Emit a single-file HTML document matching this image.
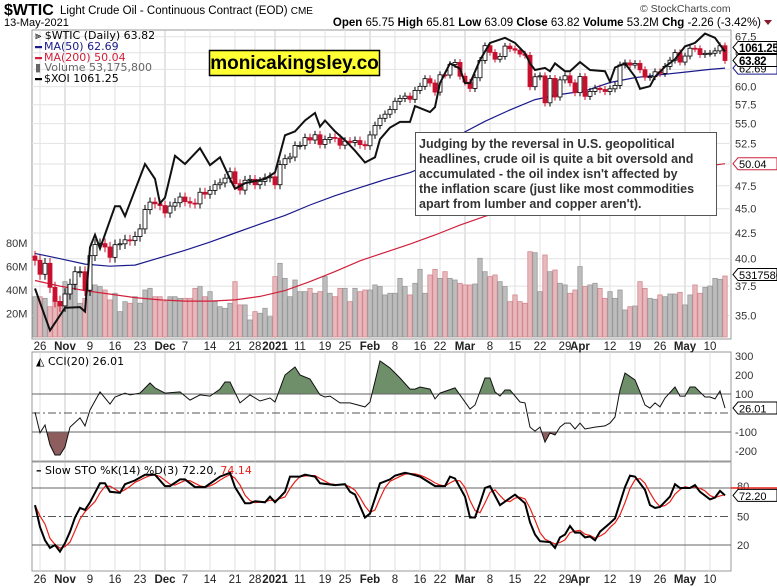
<!DOCTYPE html>
<html><head><meta charset="utf-8"><style>
html,body{margin:0;padding:0;background:#fff;}
svg{display:block;font-family:"Liberation Sans",sans-serif;}
.ax{font-size:11px;fill:#333;}
.dl{font-size:11.5px;fill:#222;text-anchor:middle;}
.db{font-weight:bold;}
</style></head><body>
<svg id="c" width="777" height="587" viewBox="0 0 777 587" xmlns="http://www.w3.org/2000/svg">
<rect x="0" y="0" width="777" height="587" fill="#fff"/>
<text x="4" y="15" font-size="16" font-weight="bold">$WTIC</text>
<text x="60" y="14" font-size="11.5">Light Crude Oil - Continuous Contract (EOD) <tspan font-size="10">CME</tspan></text>
<text x="4" y="26" font-size="11">13-May-2021</text>
<text x="640" y="12" font-size="10.5" fill="#444">© StockCharts.com</text>
<text x="761" y="26" font-size="11.5" text-anchor="end"><tspan font-weight="bold">Open</tspan> 65.75  <tspan font-weight="bold">High</tspan> 65.81  <tspan font-weight="bold">Low</tspan> 63.09  <tspan font-weight="bold">Close</tspan> 63.82  <tspan font-weight="bold">Volume</tspan> 53.2M  <tspan font-weight="bold">Chg</tspan> -2.26 (-3.42%)</text>
<path d="M764 20 l8 0 l-4 5z" fill="#8b1a2a"/>
<g id="g"></g>
</svg>
<script>
const closes=[39.85,38.56,39.57,37.39,36.17,35.79,
36.81,37.66,38.79,38.79,37.14,40.29,41.36,41.45,41.12,40.13,41.34,41.43,41.82,41.74,42.15,42.91,44.91,45.71,45.53,45.34,
44.55,45.28,45.64,46.26,45.76,45.60,45.52,46.78,46.57,46.99,47.62,47.82,48.36,49.10,47.74,47.02,48.12,48.23,47.62,48.00,48.40,48.52,
47.62,49.93,50.63,50.83,52.24,52.25,53.21,52.91,53.57,52.36,52.98,53.24,53.13,52.27,52.77,52.61,52.85,52.34,52.20,
53.55,54.76,55.69,56.23,56.85,57.97,58.36,58.68,58.24,59.47,60.05,61.14,60.52,59.24,61.70,61.67,63.22,63.53,61.50,
60.64,59.75,61.28,63.83,66.09,65.05,64.01,64.44,66.02,65.61,65.39,64.80,64.60,60.00,61.42,61.55,57.76,61.18,58.56,60.97,61.56,60.55,59.16,
61.45,58.65,59.33,59.77,59.60,59.32,59.70,60.18,63.15,63.46,63.13,63.38,62.44,61.35,61.43,62.14,61.91,62.94,63.86,65.01,63.58,
64.49,65.69,65.63,64.71,64.90,64.92,65.28,66.08,63.82];
const volume=[34.3,34.3,32.9,25.8,34.3,30.1,47.1,44.3,48.5,28.7,32.9,44.3,44.3,42.9,40.0,31.5,37.2,21.6,30.1,28.7,34.3,28.7,40.0,41.4,34.3,34.3,30.1,34.3,34.3,32.9,32.9,32.9,41.4,42.9,34.3,38.6,30.1,25.8,24.4,28.7,47.1,27.3,27.3,14.5,21.6,20.2,24.4,17.3,51.4,62.7,49.9,34.3,48.5,38.6,38.6,41.4,37.2,38.6,51.4,37.2,34.3,41.4,41.4,30.1,41.4,38.6,40.0,
40.0,44.3,42.9,35.8,37.2,37.2,49.9,42.9,35.8,45.7,57.6,37.2,52.8,57.6,49.9,55.6,49.9,48.5,45.7,44.3,44.3,45.1,67.0,55.6,51.4,52.8,47.1,42.9,30.1,35.8,30.1,28.7,72.6,71.8,38.6,69.8,55.6,57.0,45.7,44.3,37.2,40.0,59.9,42.9,44.3,45.7,41.4,32.9,38.6,32.9,40.0,23.0,25.8,26.4,47.1,41.4,32.9,32.1,35.8,34.3,36.6,36.6,38.0,27.3,35.8,44.3,37.2,42.3,43.4,49.9,49.1,51.9];
const ma50Idx=[0,5,10,15,20,25,30,35,40,45,50,55,60,65,70,75,80,85,90,95,100,105,110,115,120,125,130,135,138];
const ma50Val=[40.5,40.0,39.5,39.3,39.4,40.1,40.8,41.6,42.5,43.4,44.3,45.4,46.4,47.3,48.2,49.0,50.2,53.6,55.3,56.8,58.2,58.9,59.4,60.6,61.3,61.7,62.1,62.5,62.69];
const ma200Idx=[0,5,10,15,20,25,30,35,40,45,50,55,60,65,70,75,80,85,90,95,100,105,110,115,120,125,130,135,138];
const ma200Val=[38.0,37.5,37.1,36.8,36.5,36.3,36.2,36.2,36.3,36.6,37.1,37.9,38.8,39.8,40.6,41.4,42.3,43.3,44.2,45.0,45.8,46.5,47.2,47.8,48.5,49.0,49.4,49.8,50.04];
const xoiIdx=[0,3,6,9,10,11,12,13,16,17,18,22,24,25,26,28,30,33,35,37,39,40,42,46,48,50,52,54,56,57,58,60,62,64,66,68,69,71,73,75,76,79,80,81,83,85,86,87,89,91,94,96,98,99,100,102,103,104,106,107,109,111,114,115,116,118,120,121,123,124,126,128,130,132,134,136,137,138];
const xoiVal=[607,550,580,581,575,669,689,667,737,737,720,814,786,742,752,830,814,845,812,827,786,768,778,786,798,871,879,902,918,889,902,879,861,840,817,827,863,887,899,899,933,920,931,985,1032,1019,985,985,1040,1083,1096,1083,1057,1032,1016,1021,1013,1032,1013,1013,1035,1016,1013,988,1022,1032,1000,972,978,1000,1024,1042,1074,1083,1107,1096,1078,1061.25];
const cciIdx=[0,1,2,3,4,5,6,7,9,10,11,13,15,16,18,19,21,23,24,26,29,31,33,35,37,38,39,41,43,45,47,48,50,52,53,55,57,58,59,61,63,66,67,69,71,73,75,76,77,79,80,81,84,85,87,88,90,91,92,93,94,95,97,98,99,100,101,102,103,104,105,106,107,108,109,110,112,114,115,116,117,118,120,121,122,123,124,125,126,128,129,130,131,132,134,135,136,137,138];
const cciVal=[5,-105,-63,-168,-221,-221,-179,-74,-26,-68,16,111,47,84,105,95,105,158,132,105,111,68,95,89,126,163,163,53,95,63,79,58,200,242,200,179,95,84,89,53,53,32,58,274,237,184,126,126,137,126,74,105,132,95,21,42,184,184,111,89,121,121,58,53,-74,-95,-74,-153,-105,-116,-74,-53,-53,-84,-53,-84,-74,-68,-53,-21,121,210,174,111,42,26,53,32,79,137,89,89,137,137,84,84,74,116,26.01];
const stoIdx=[0,1,2,3,4,5,6,7,8,9,10,11,13,14,15,17,18,20,22,24,26,27,29,30,32,34,37,39,40,42,43,44,46,47,48,50,51,53,54,56,57,60,62,63,64,66,67,69,71,72,74,75,77,80,82,83,84,86,87,88,89,90,91,93,96,98,99,100,101,103,104,105,106,107,108,109,110,111,112,113,115,116,118,119,120,122,123,124,125,127,128,129,131,132,133,135,136,137,138];
const stoK=[62,39,25,17,20,13,22,34,49,59,57,65,85,85,76,75,84,88,94,94,82,82,89,89,81,81,92,96,81,64,64,66,65,71,65,76,92,92,94,92,85,83,84,76,73,49,53,85,89,93,96,95,92,82,82,92,90,71,49,49,64,80,82,62,73,64,44,31,24,23,17,28,31,40,33,33,28,29,25,34,43,48,81,93,92,78,62,59,60,71,84,80,80,83,76,68,70,77,72.2];
const priceTicks=[67.5,65.0,62.5,60.0,57.5,55.0,52.5,50.0,47.5,45.0,42.5,40.0,37.5,35.0];
const volTicks=[20,40,60,80];
const cciTicks=[300,200,100,-100,-200];
const stoTicks=[50,20];
const dateLabels=["26","Nov","9","16","23","Dec","7","14","21","28","2021","11","19","25","Feb","8","16","22","Mar","8","15","22","29","Apr","12","19","26","May","10"];
const dateIdx=[1,6,11,16,21,26,30,35,40,44,48,53,58,62,67,72,77,81,86,91,96,101,106,109,115,120,125,130,135];
const dateBold=[0,1,0,0,0,1,0,0,0,0,1,0,0,0,1,0,0,0,1,0,0,0,0,1,0,0,0,1,0];

const NS="http://www.w3.org/2000/svg";
const G=document.getElementById('g');
function el(t,a,p){const e=document.createElementNS(NS,t);for(const k in a)e.setAttribute(k,a[k]);(p||G).appendChild(e);return e;}
const L=32,R=731;
const M={t:30,b:339},C={t:352,b:461},S={t:462,b:571};
const X=i=>35+i*5.0;
const PY=p=>36.7+(Math.log(67.5)-Math.log(p))*424.3;
const VY=v=>337-v*1.175;
const CY=v=>413-v*0.19;
const SY=v=>564-v*0.95;
const XOIF=16.28;

[[M,'main-price-panel'],[C,'cci-panel'],[S,'stochastic-panel']].forEach(([P,n])=>{
  const r=el('rect',{x:L,y:P.t,width:R-L,height:P.b-P.t,fill:'#fff',stroke:'#999','stroke-width':1});
  
  
});
dateIdx.forEach((d,k)=>{
  const x=X(d);
  [M,C,S].forEach(P=>{
    const l=el('line',{x1:x,x2:x,y1:P.t,y2:P.b,stroke:dateBold[k]?'#c8c8c8':'#e0e0e0','stroke-width':1});
    
    
  });
});
priceTicks.forEach(p=>{
  const y=PY(p);
  const l=el('line',{x1:L,x2:R,y1:y,y2:y,stroke:'#e2e2e2'});
  
  
  const t=el('text',{x:735,y:y+4,class:'ax'});t.textContent=p.toFixed(1);
  
  
});
volTicks.forEach(v=>{
  const t=el('text',{x:6,y:VY(v)+4,class:'ax'});t.textContent=v+'M';
  
  
});
volume.forEach((v,i)=>{
  const down=i>0&&closes[i]<closes[i-1];
  const r=el('rect',{x:X(i)-2.2,y:VY(v),width:4.4,height:337-VY(v),fill:down?'#e9b8bc':'#bdbdbd',stroke:down?'#d08a90':'#9a9a9a','stroke-width':0.8});
  
  
});
function poly(idx,vals,f,attrs,name){
  const pts=idx.map((d,k)=>X(d).toFixed(1)+','+f(vals[k]).toFixed(1)).join(' ');
  const e=el('polyline',Object.assign({points:pts,fill:'none'},attrs));
  
  
  return e;
}
poly(ma200Idx,ma200Val,PY,{stroke:'#d0203a','stroke-width':1.2},'ma200-line');
poly(ma50Idx,ma50Val,PY,{stroke:'#1a1a8c','stroke-width':1.2},'ma50-line');
closes.forEach((c,i)=>{
  const o=i>0?closes[i-1]:c+0.4;
  const hi=Math.max(o,c)+0.5,lo=Math.min(o,c)-0.5;
  const down=c<o;
  const x=X(i);
  const w=el('line',{x1:x,x2:x,y1:PY(hi),y2:PY(lo),stroke:down?'#c8102e':'#000','stroke-width':1});
  
  
  const y1=PY(Math.max(o,c)),y2=PY(Math.min(o,c));
  const b=el('rect',{x:x-2,y:y1,width:4,height:Math.max(1,y2-y1),fill:down?'#c8102e':'#fff',stroke:down?'#c8102e':'#000','stroke-width':0.8});
  
  
});
poly(xoiIdx,xoiVal,v=>PY(v/XOIF),{stroke:'#111','stroke-width':2},'xoi-line');

const defs=el('defs',{});
const cp1=el('clipPath',{id:'cAbove'},defs);el('rect',{x:L,y:C.t,width:R-L,height:CY(100)-C.t},cp1);
const cp2=el('clipPath',{id:'cBelow'},defs);el('rect',{x:L,y:CY(-100),width:R-L,height:C.b-CY(-100)},cp2);
const cciPts=cciIdx.map((d,k)=>X(d).toFixed(1)+','+CY(cciVal[k]).toFixed(1));
const x0=X(cciIdx[0]),x1=X(cciIdx[cciIdx.length-1]);
const fa=el('polygon',{points:x0+','+CY(100)+' '+cciPts.join(' ')+' '+x1+','+CY(100),fill:'#6e8f6a','clip-path':'url(#cAbove)'});


const fb=el('polygon',{points:x0+','+CY(-100)+' '+cciPts.join(' ')+' '+x1+','+CY(-100),fill:'#8e5d5d','clip-path':'url(#cBelow)'});


[100,-100].forEach(v=>{const l=el('line',{x1:L,x2:R,y1:CY(v),y2:CY(v),stroke:'#666'});
  
  });
const z=el('line',{x1:L,x2:R,y1:CY(0),y2:CY(0),stroke:'#555','stroke-dasharray':'8,3,2,3'});


poly(cciIdx,cciVal,CY,{stroke:'#111','stroke-width':1},'cci-line');
cciTicks.forEach(v=>{const t=el('text',{x:735,y:CY(v)+4,class:'ax'});t.textContent=v;
  
  });

[80,20].forEach(v=>{const l=el('line',{x1:L,x2:R,y1:SY(v),y2:SY(v),stroke:'#666'});
  
  });
const s5=el('line',{x1:L,x2:R,y1:SY(50),y2:SY(50),stroke:'#555','stroke-dasharray':'8,3,2,3'});


const dailyK=[];
for(let i=0;i<=138;i++){let k=0;while(k<stoIdx.length-1&&stoIdx[k+1]<i)k++;
  const a=stoIdx[k],b=stoIdx[Math.min(k+1,stoIdx.length-1)];
  const t=b===a?0:(i-a)/(b-a);dailyK.push(stoK[k]+(stoK[Math.min(k+1,stoK.length-1)]-stoK[k])*Math.max(0,Math.min(1,t)));}
const dIdx=[],dVal=[];
for(let i=0;i<=138;i++){const s=dailyK.slice(Math.max(0,i-2),i+1);dIdx.push(i);dVal.push(s.reduce((a,b)=>a+b,0)/s.length);}
poly(dIdx,dVal,SY,{stroke:'#e8201a','stroke-width':1.2},'sto-d-line');
poly(stoIdx,stoK,SY,{stroke:'#000','stroke-width':2},'sto-k-line');
stoTicks.forEach(v=>{const t=el('text',{x:737,y:SY(v)+4,class:'ax'});t.textContent=v;
  
  });
const t80=el('text',{x:737,y:SY(80)+2,class:'ax'});t80.textContent='80';



dateLabels.forEach((s,k)=>{
  [350,583].forEach(y=>{
    const t=el('text',{x:X(dateIdx[k]),y:y,class:'dl'+(dateBold[k]?' db':'')});t.textContent=s;
    
    
  });
});

function tag(y,txt,col,bold,name){
  const g=el('g',{});
  
  
  el('path',{d:`M733 ${y} l5 -6 h39 v12 h-39 z`,fill:'#fff',stroke:col,'stroke-width':1},g);
  const t=el('text',{x:739,y:y+4.5,'font-size':bold?11.5:11,'font-weight':bold?'bold':'normal',fill:'#000','letter-spacing':bold?'-0.3':'0'},g);t.textContent=txt;
}
tag(PY(62.69),'62.69','#1a1a8c',false,'ma50-value-tag');
tag(PY(63.82),'63.82','#000',true,'price-value-tag');
tag(PY(1061.25/XOIF)-4,'1061.25','#000',true,'xoi-value-tag');
tag(PY(50.04),'50.04','#d0203a',false,'ma200-value-tag');
tag(VY(53.18),'5317580','#000',false,'volume-value-tag');
tag(CY(26.01),'26.01','#000',false,'cci-value-tag');
el('line',{x1:731,x2:777,y1:SY(80),y2:SY(80),stroke:'#e8201a','stroke-width':1.5});
tag(SY(72.2),'72.20','#000',false,'sto-value-tag');

function leg(y,sym,txt,col,name){
  const g=el('g',{});
  
  
  if(sym==='line')el('rect',{x:35,y:y-4,width:7,height:2.2,fill:col},g);
  const t=el('text',{x:sym==='none'?35:44,y:y,'font-size':11,fill:col,'font-family':'DejaVu Sans,sans-serif'},g);t.textContent=txt;
}
leg(39,'none','⫸ $WTIC (Daily) 63.82','#000','legend-wtic');
leg(50,'line','MA(50) 62.69','#1a1a8c','legend-ma50');
leg(61,'line','MA(200) 50.04','#d0203a','legend-ma200');
leg(71,'none','▮ Volume 53,175,800','#666','legend-volume');
leg(82,'line','$XOI 1061.25','#000','legend-xoi');
const cl=el('text',{x:36,y:365,'font-size':11,'font-family':'DejaVu Sans,sans-serif'});cl.textContent='◭ CCI(20) 26.01';


const sl=el('text',{x:36,y:474,'font-size':11,'font-family':'DejaVu Sans,sans-serif'});
sl.innerHTML='<tspan font-weight="bold">–</tspan> Slow STO %K(14) %D(3) 72.20, <tspan fill="#e8201a">74.14</tspan>';



const wb=el('g',{});


el('rect',{x:209.5,y:50.5,width:170,height:25,fill:'#ffff33',stroke:'#000','stroke-width':1.5},wb);
const wt=el('text',{x:294.5,y:69,'font-size':19,'font-weight':'bold','text-anchor':'middle'},wb);wt.textContent='monicakingsley.co';

const ab=el('g',{});


el('rect',{x:415.5,y:132.5,width:301,height:83,fill:'#fff',stroke:'#555','stroke-width':1},ab);
["Judging by the reversal in U.S. geopolitical","headlines, crude oil is quite a bit oversold and","accumulated - the oil index isn't affected by","the inflation scare (just like most commodities","apart from lumber and copper aren't)."].forEach((s,k)=>{
  const t=el('text',{x:419,y:148+k*15,'font-size':12.5,'font-weight':'bold',fill:'#333'},ab);t.textContent=s;
});
</script>
</body></html>
